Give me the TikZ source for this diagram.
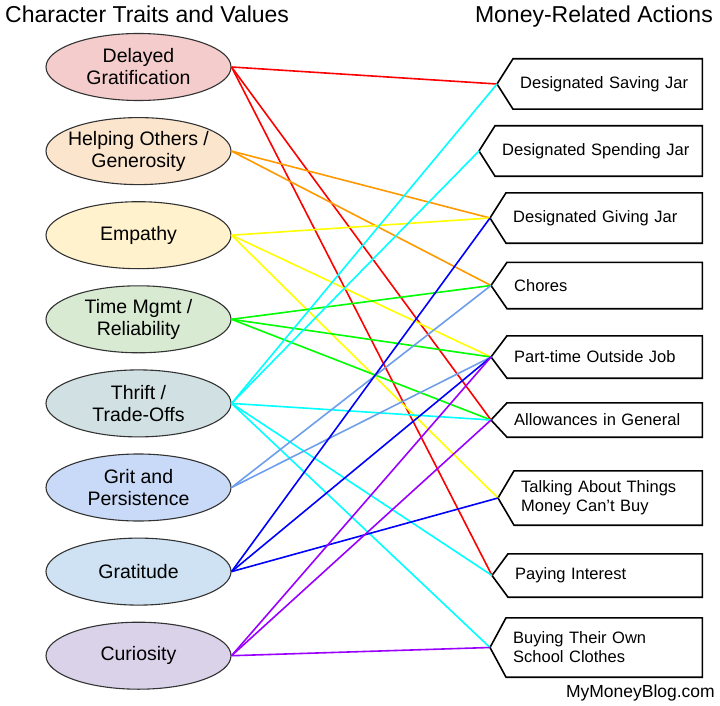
\documentclass[tikz,border=0pt]{standalone}
\usepackage{fontspec}
\setmainfont{Liberation Sans}
\usetikzlibrary{positioning,shapes.geometric}

% trait fills
\definecolor{fillred}{HTML}{F4CCCC}
\definecolor{fillorange}{HTML}{FCE5CD}
\definecolor{fillyellow}{HTML}{FFF2CC}
\definecolor{fillgreen}{HTML}{D9EAD3}
\definecolor{fillcyan}{HTML}{D0E0E3}
\definecolor{fillcorn}{HTML}{C9DAF8}
\definecolor{fillblue}{HTML}{CFE2F3}
\definecolor{fillpurple}{HTML}{D9D2E9}
% link colours
\definecolor{lnred}{HTML}{FF0000}
\definecolor{lnorange}{HTML}{FF9900}
\definecolor{lnyellow}{HTML}{FFFF00}
\definecolor{lngreen}{HTML}{00FF00}
\definecolor{lncyan}{HTML}{00FFFF}
\definecolor{lncorn}{HTML}{6D9EEB}
\definecolor{lnblue}{HTML}{0000FF}
\definecolor{lnpurple}{HTML}{9900FF}

\begin{document}
\begin{tikzpicture}[x=1pt, y=-1pt,
      node distance=16pt,
      trait/.style={ellipse, draw=black!80, line width=1.1pt, minimum width=185pt, minimum height=67pt, inner xsep=-8pt, inner ysep=0pt, align=center, font=\fontsize{19.5}{22}\selectfont},
      action/.style={rectangle, anchor=west, align=left, inner xsep=7pt, inner ysep=0pt, text width=#1, font=\fontsize{16.5}{19}\selectfont},
      outline/.style={draw=black, line width=1.6pt, line join=miter},
      link/.style={line width=1.6pt},
      title/.style={inner sep=0pt, font=\fontsize{23}{26}\selectfont}
    ]
      \useasboundingbox (0,0) rectangle (720,706);

      \node[title, anchor=base west] (lefttitle) at (5,23) {Character Traits and Values};
      \node[title, anchor=base east] (righttitle) at (713,23) {Money-Related Actions};

      % traits
      \node[trait, fill=fillred] (delay) at (138.5,67) {Delayed\\Gratification};
      \node[trait, fill=fillorange, below=of delay] (help) {Helping Others /\\Generosity};
      \node[trait, fill=fillyellow, below=of help] (empathy) {Empathy};
      \node[trait, fill=fillgreen, below=of empathy] (time) {Time Mgmt /\\Reliability};
      \node[trait, fill=fillcyan, below=of time] (thrift) {Thrift /\\Trade-Offs};
      \node[trait, fill=fillcorn, below=of thrift] (grit) {Grit and\\Persistence};
      \node[trait, fill=fillblue, below=of grit] (gratitude) {Gratitude};
      \node[trait, fill=fillpurple, below=of gratitude] (curious) {Curiosity};

      % actions
      \node[action=175pt, minimum height=50pt] (saving) at (513,84) {Designated Saving Jar};
      \node[action=193pt, minimum height=50pt] (spending) at (495,151) {Designated Spending Jar};
      \node[action=182pt, minimum height=50pt] (giving) at (506,218) {Designated Giving Jar};
      \node[action=181pt, minimum height=46pt] (chores) at (507,285.5) {Chores};
      \node[action=181pt, minimum height=42pt] (parttime) at (507,357) {Part-time Outside Job};
      \node[action=181pt, minimum height=34pt] (allowance) at (507,420) {Allowances in General};
      \node[action=174pt, minimum height=54pt] (talking) at (514,498) {Talking About Things\\Money Can't Buy};
      \node[action=180pt, minimum height=43pt] (interest) at (508,575.5) {Paying Interest};
      \node[action=182pt, minimum height=59pt] (clothes) at (506,647.5) {Buying Their Own\\School Clothes};

      \foreach \n in {saving,spending,giving,chores,parttime,allowance,talking,interest,clothes}
        \draw[outline] (\n.north east) -- (\n.north west) -- ([xshift=-16pt]\n.west) -- (\n.south west) -- (\n.south east) -- cycle;

      % links
      \foreach \src/\col/\dsts in {
          delay/lnred/{saving,allowance,interest},
          help/lnorange/{giving,chores},
          empathy/lnyellow/{giving,parttime,talking},
          time/lngreen/{chores,parttime,allowance},
          thrift/lncyan/{saving,spending,allowance,interest,clothes},
          grit/lncorn/{chores,parttime},
          gratitude/lnblue/{giving,parttime,talking},
          curious/lnpurple/{parttime,allowance,clothes}}
        \foreach \d in \dsts
          \draw[link, \col] (\src.east) -- ([xshift=-16pt]\d.west);

      \node[anchor=base east, inner sep=0pt, font=\fontsize{17.5}{20}\selectfont] (credit) at (715,697) {MyMoneyBlog.com};
    \end{tikzpicture}
\end{document}
